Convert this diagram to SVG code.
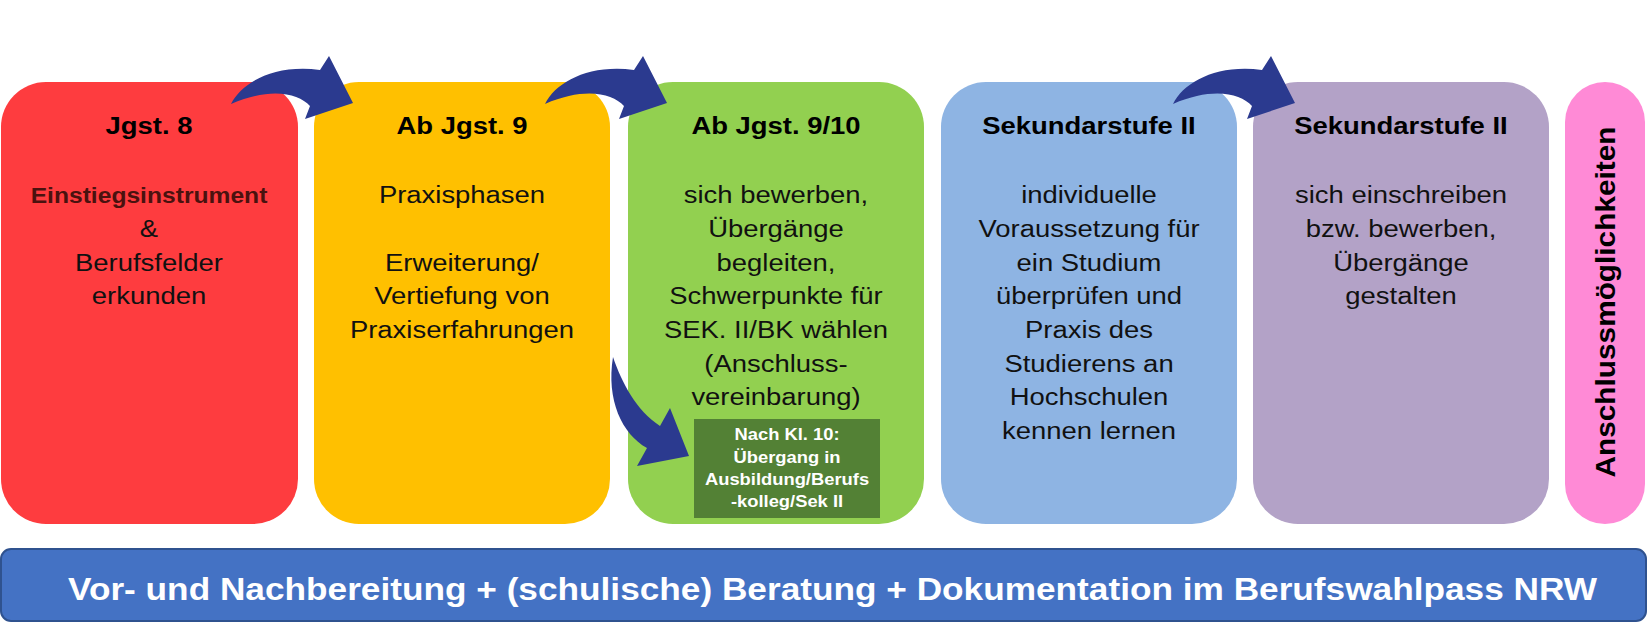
<svg xmlns="http://www.w3.org/2000/svg" xmlns:xlink="http://www.w3.org/1999/xlink" width="1650" height="631" viewBox="0 0 1650 631">
<style>
  .box { stroke: none; }
  .title { font-family: "Liberation Sans", Arial, sans-serif; font-weight: bold; font-size: 24.5px; fill: #000; text-anchor: middle; }
  .body { font-family: "Liberation Sans", Arial, sans-serif; font-size: 24.5px; fill: #111; text-anchor: middle; }
  .small { font-family: "Liberation Sans", Arial, sans-serif; font-weight: bold; font-size: 17px; fill: #fff; text-anchor: middle; }
  .arrow { fill: #2b3a8f; }
</style>
<defs>
  <path id="curveArrow" d="M231,104 C242,82 275,64 320,70 L329,56 L353,103 L305,119 L310,106 C298,93 270,87 231,104 Z"/>
</defs>
<rect width="1650" height="631" fill="#ffffff"/>

<g id="node-jgst8">
  <rect class="box" x="1" y="82" width="297" height="442" rx="45" fill="#fe3c3f"/>
  <g transform="translate(149 0) scale(1.12 1)">
    <text class="title" x="0" y="134">Jgst. 8</text>
    <text class="title" x="0" y="203" style="font-size:22px;fill:#4a120f">Einstiegsinstrument</text>
    <text class="body" x="0" y="237">&amp;</text>
    <text class="body" x="0" y="271">Berufsfelder</text>
    <text class="body" x="0" y="304">erkunden</text>
  </g>
</g>

<g id="node-jgst9">
  <rect class="box" x="314" y="82" width="296" height="442" rx="45" fill="#ffc000"/>
  <g transform="translate(462 0) scale(1.12 1)">
    <text class="title" x="0" y="134">Ab Jgst. 9</text>
    <text class="body" x="0" y="203">Praxisphasen</text>
    <text class="body" x="0" y="271">Erweiterung/</text>
    <text class="body" x="0" y="304">Vertiefung von</text>
    <text class="body" x="0" y="338">Praxiserfahrungen</text>
  </g>
</g>

<g id="node-jgst910">
  <rect class="box" x="628" y="82" width="296" height="442" rx="45" fill="#92d050"/>
  <g transform="translate(776 0) scale(1.12 1)">
    <text class="title" x="0" y="134">Ab Jgst. 9/10</text>
    <text class="body" x="0" y="203">sich bewerben,</text>
    <text class="body" x="0" y="237">Übergänge</text>
    <text class="body" x="0" y="271">begleiten,</text>
    <text class="body" x="0" y="304">Schwerpunkte für</text>
    <text class="body" x="0" y="338">SEK. II/BK wählen</text>
    <text class="body" x="0" y="372">(Anschluss-</text>
    <text class="body" x="0" y="405">vereinbarung)</text>
  </g>
</g>

<g id="node-nachkl10">
  <rect x="694" y="419" width="186" height="99" fill="#538135"/>
  <g transform="translate(787 0) scale(1.08 1)">
    <text class="small" x="0" y="440">Nach Kl. 10:</text>
    <text class="small" x="0" y="463">Übergang in</text>
    <text class="small" x="0" y="485">Ausbildung/Berufs</text>
    <text class="small" x="0" y="507">-kolleg/Sek II</text>
  </g>
</g>

<g id="node-sek2a">
  <rect class="box" x="941" y="82" width="296" height="442" rx="45" fill="#8eb4e3"/>
  <g transform="translate(1089 0) scale(1.12 1)">
    <text class="title" x="0" y="134">Sekundarstufe II</text>
    <text class="body" x="0" y="203">individuelle</text>
    <text class="body" x="0" y="237">Voraussetzung für</text>
    <text class="body" x="0" y="271">ein Studium</text>
    <text class="body" x="0" y="304">überprüfen und</text>
    <text class="body" x="0" y="338">Praxis des</text>
    <text class="body" x="0" y="372">Studierens an</text>
    <text class="body" x="0" y="405">Hochschulen</text>
    <text class="body" x="0" y="439">kennen lernen</text>
  </g>
</g>

<g id="node-sek2b">
  <rect class="box" x="1253" y="82" width="296" height="442" rx="45" fill="#b3a2c7"/>
  <g transform="translate(1401 0) scale(1.12 1)">
    <text class="title" x="0" y="134">Sekundarstufe II</text>
    <text class="body" x="0" y="203">sich einschreiben</text>
    <text class="body" x="0" y="237">bzw. bewerben,</text>
    <text class="body" x="0" y="271">Übergänge</text>
    <text class="body" x="0" y="304">gestalten</text>
  </g>
</g>

<g id="node-anschluss">
  <rect class="box" x="1565" y="82" width="80" height="442" rx="40" fill="#ff8ad6"/>
  <text class="title" transform="translate(1615 302) rotate(-90)" x="0" y="0" style="font-size:27px" textLength="351" lengthAdjust="spacingAndGlyphs">Anschlussmöglichkeiten</text>
</g>

<g id="node-bar">
  <rect x="1" y="549" width="1645" height="72" rx="10" fill="#4472c4" stroke="#2f528f" stroke-width="2"/>
  <text x="68" y="600" font-family="Liberation Sans, Arial, sans-serif" font-weight="bold" font-size="32" fill="#ffffff" textLength="1529" lengthAdjust="spacingAndGlyphs">Vor- und Nachbereitung + (schulische) Beratung + Dokumentation im Berufswahlpass NRW</text>
</g>

<g id="connectors">
  <use xlink:href="#curveArrow" href="#curveArrow" class="arrow"/>
  <use xlink:href="#curveArrow" href="#curveArrow" class="arrow" transform="translate(314 0)"/>
  <use xlink:href="#curveArrow" href="#curveArrow" class="arrow" transform="translate(942 0)"/>
  <path class="arrow" d="M613,357 C622,383 636,410 660,426 L670,408 L689,456 L637,466 L647,448 C622,434 606,400 613,357 Z"/>
</g>
</svg>
